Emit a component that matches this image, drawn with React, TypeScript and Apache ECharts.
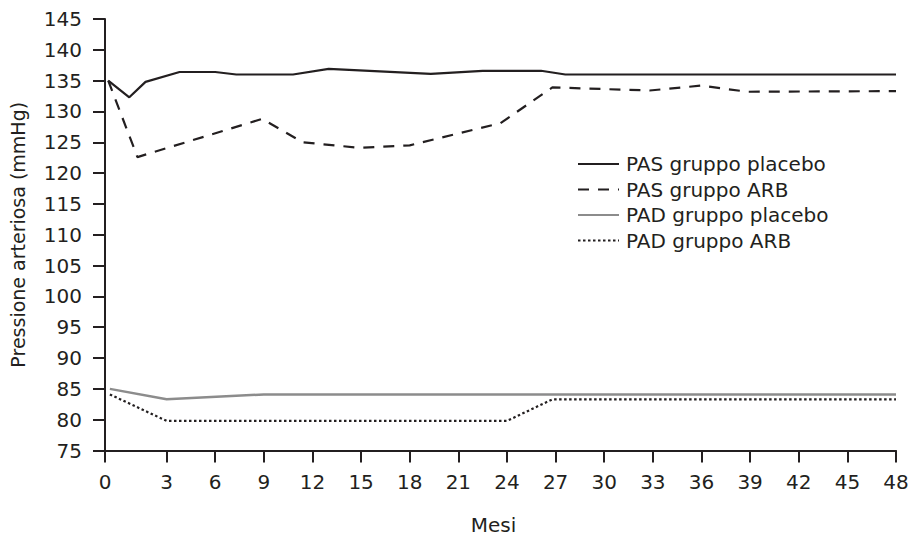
import React, { useEffect, useRef } from 'react';
import * as echarts from 'echarts';

// Tick labels of the month axis
const xTickLabels = ['0', '3', '6', '9', '12', '15', '18', '21', '24', '27', '30', '33', '36', '39', '42', '45', '48'];
// The "0" label of the original sits at the axis origin, a little before month 0 of the linear scale
const X_ORIGIN = -0.8;

const seriesNames = ['PAS gruppo placebo', 'PAS gruppo ARB', 'PAD gruppo placebo', 'PAD gruppo ARB'];

// PAS gruppo placebo
const pasPlaceboX = [-0.6, 0.7, 1.7, 3.8, 6.0, 7.3, 10.8, 13.0, 19.3, 22.5, 26.1, 27.6, 48];
const pasPlaceboY = [135, 132.3, 134.8, 136.4, 136.4, 136.0, 136.0, 136.9, 136.1, 136.6, 136.6, 136.0, 136.0];

// PAS gruppo ARB
const pasArbX = [-0.6, 1.2, 8.9, 11.4, 14.9, 18.0, 23.6, 26.8, 32.8, 36.0, 38.8, 48];
const pasArbY = [135, 122.6, 128.8, 125.0, 124.1, 124.5, 128.1, 133.9, 133.4, 134.2, 133.2, 133.3];

// PAD gruppo placebo
const padPlaceboX = [-0.5, 3.0, 9.0, 48];
const padPlaceboY = [85.0, 83.3, 84.1, 84.1];

// PAD gruppo ARB
const padArbX = [-0.5, 3.0, 24.0, 26.8, 48];
const padArbY = [84.1, 79.8, 79.8, 83.3, 83.3];

const INK = '#231f20';
const GRAY = '#8c8c8c';
const FONT = 'DejaVu Sans';
const FS = 20;

const zip = (xs: number[], ys: number[]) => xs.map((x, i) => [x, ys[i]]);

export default function App() {
  const ref = useRef<HTMLDivElement>(null);

  useEffect(() => {
    if (!ref.current) return;
    const chart = echarts.init(ref.current, null, { renderer: 'svg' });
    const tickValues = xTickLabels.map((l) => (l === '0' ? X_ORIGIN : Number(l)));
    const fmt = (v: number) => {
      let best = 0;
      for (let i = 0; i < tickValues.length; i++) {
        if (Math.abs(tickValues[i] - v) < Math.abs(tickValues[best] - v)) best = i;
      }
      return xTickLabels[best];
    };

    chart.setOption({
      animation: false,
      backgroundColor: '#ffffff',
      textStyle: { fontFamily: FONT, color: INK },
      grid: { left: 105, top: 19, right: 12, bottom: 84.5, containLabel: false, outerBoundsMode: 'none' },
      legend: {
        orient: 'vertical',
        left: 577,
        top: 154,
        padding: 0,
        itemWidth: 41,
        itemHeight: 14,
        itemGap: 5.5,
        data: seriesNames,
        itemStyle: { color: 'rgba(0,0,0,0)', borderWidth: 0, opacity: 0 },
        textStyle: { fontFamily: FONT, fontSize: FS, color: INK, padding: [0, 0, 0, 2] },
      },
      xAxis: {
        type: 'value',
        min: X_ORIGIN,
        max: 48,
        name: 'Mesi',
        nameLocation: 'middle',
        nameGap: 65,
        nameTextStyle: { fontFamily: FONT, fontSize: FS, lineHeight: 18, color: INK, padding: [0, 14, 0, 0] },
        axisLine: { show: true, onZero: false, lineStyle: { color: INK, width: 2 } },
        axisTick: { show: true, length: 12, customValues: tickValues, lineStyle: { color: INK, width: 2 } },
        axisLabel: {
          customValues: tickValues,
          margin: 21,
          fontFamily: FONT,
          fontSize: FS,
          color: INK,
          formatter: fmt,
          showMinLabel: true,
          showMaxLabel: true,
        },
        splitLine: { show: false },
      },
      yAxis: {
        type: 'value',
        min: 75,
        max: 145,
        interval: 5,
        name: 'Pressione arteriosa (mmHg)',
        nameLocation: 'middle',
        nameGap: 78,
        nameRotate: 90,
        nameTextStyle: { fontFamily: FONT, fontSize: 19, color: INK },
        axisLine: { show: true, onZero: false, lineStyle: { color: INK, width: 2 } },
        axisTick: { show: true, length: 12, lineStyle: { color: INK, width: 2 } },
        axisLabel: { margin: 23, fontFamily: FONT, fontSize: FS, color: INK },
        splitLine: { show: false },
      },
      series: [
        {
          name: seriesNames[0],
          type: 'line',
          symbol: 'none',
          data: zip(pasPlaceboX, pasPlaceboY),
          lineStyle: { color: INK, width: 2.2 },
          itemStyle: { color: INK },
        },
        {
          name: seriesNames[1],
          type: 'line',
          symbol: 'none',
          data: zip(pasArbX, pasArbY),
          lineStyle: { color: INK, width: 2.2, type: [11, 9] },
          itemStyle: { color: INK },
        },
        {
          name: seriesNames[2],
          type: 'line',
          symbol: 'none',
          data: zip(padPlaceboX, padPlaceboY),
          lineStyle: { color: GRAY, width: 2.5 },
          itemStyle: { color: GRAY },
        },
        {
          name: seriesNames[3],
          type: 'line',
          symbol: 'none',
          data: zip(padArbX, padArbY),
          lineStyle: { color: INK, width: 2.2, type: [2.5, 2.5] },
          itemStyle: { color: INK },
        },
      ],
    });
    return () => chart.dispose();
  }, []);

  return (
    <div
      ref={ref}
      style={{ position: 'fixed', left: 0, top: 0, width: 908, height: 535, background: '#fff' }}
    />
  );
}
